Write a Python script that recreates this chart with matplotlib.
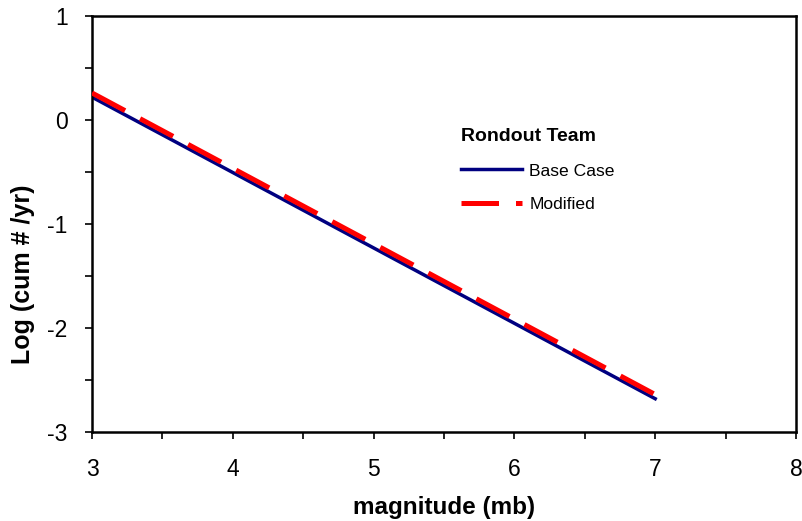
import numpy as np
import matplotlib
matplotlib.use("Agg")
import matplotlib.pyplot as plt
from matplotlib.ticker import MultipleLocator

plt.rcParams["font.family"] = ["Liberation Sans", "DejaVu Sans"]
plt.rcParams["axes.unicode_minus"] = False

magnitude = [3, 4, 5, 6, 7]
base_case = [0.22, -0.505, -1.23, -1.955, -2.68]
modified = [0.26, -0.465, -1.19, -1.915, -2.64]

W, H = 803, 521
fig = plt.figure(figsize=(W / 100, H / 100), dpi=100)
ax = fig.add_axes([92 / W, 1 - 432 / H, 704 / W, 416 / H])

ax.plot(magnitude, base_case, color="#000080", lw=2.5, label="Base Case", zorder=2)
ln, = ax.plot(magnitude, modified, color="#ff0000", lw=3.6, label="Modified", zorder=3)
ln.set_dashes((7.5, 3.4))

ax.set_xlim(3, 8)
ax.set_ylim(-3, 1)
ax.xaxis.set_major_locator(MultipleLocator(1))
ax.xaxis.set_minor_locator(MultipleLocator(0.5))
ax.yaxis.set_major_locator(MultipleLocator(1))
ax.yaxis.set_minor_locator(MultipleLocator(0.5))
ax.tick_params(which="both", direction="out", length=5, width=1.2, labelsize=16.5)
ax.tick_params(axis="y", pad=12.5)
ax.tick_params(axis="x", pad=13.5)
for s in ax.spines.values():
    s.set_linewidth(1.8)

ax.set_xlabel("magnitude (mb)", fontsize=17.5, fontweight="bold", labelpad=11)
ax.set_ylabel("Log (cum # /yr)", fontsize=18, fontweight="bold")
ax.yaxis.set_label_coords(-0.081, 0.38)

leg = ax.legend(loc="upper left", bbox_to_anchor=(461 / W, 1 - 128 / H),
                bbox_transform=fig.transFigure, frameon=False, borderpad=0,
                borderaxespad=0, fontsize=12.6, title="Rondout Team",
                title_fontproperties={"weight": "bold", "size": 14},
                handlelength=3.5, handletextpad=0.4, labelspacing=1.05,
                alignment="left")

fig.savefig("out.png", dpi=100)
